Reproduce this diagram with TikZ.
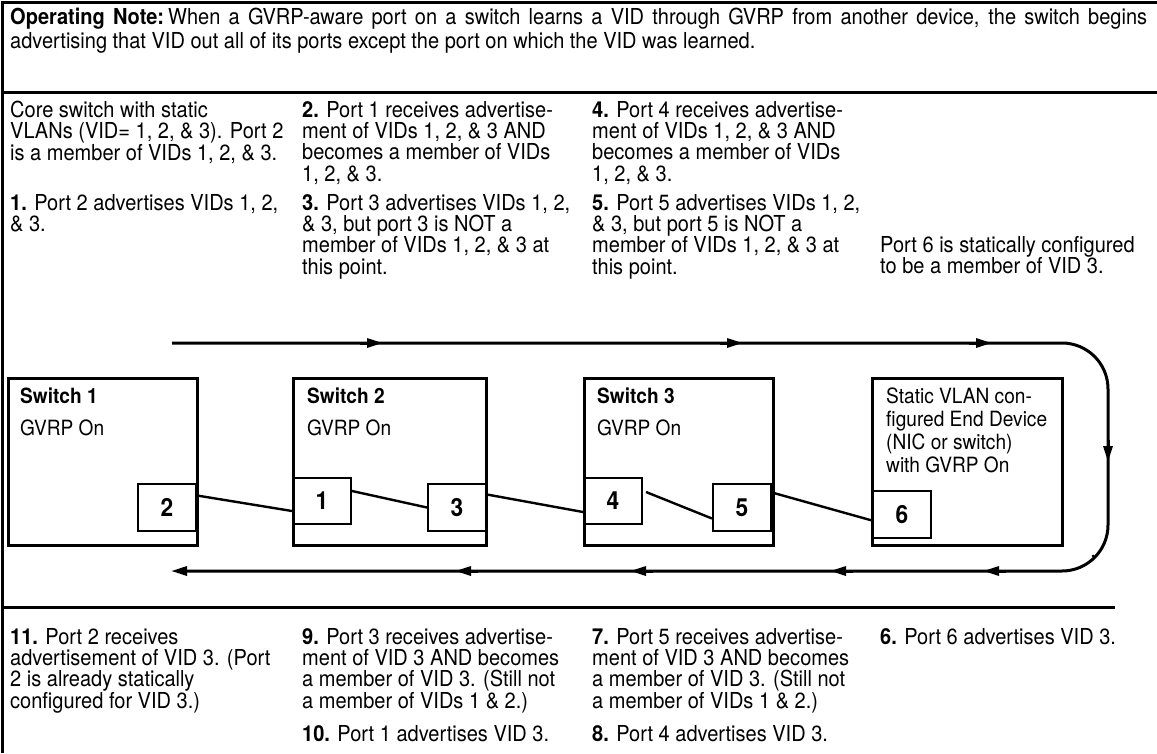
\documentclass[tikz,border=0pt]{standalone}
\usepackage{fontspec}
\setmainfont{TeX Gyre Heros}[FakeStretch=0.91]
\usetikzlibrary{arrows.meta}
\begin{document}
\begin{tikzpicture}[x=1pt,y=-1pt,
 txt/.style={anchor=north west,inner sep=0pt,align=left,font=\fontsize{22}{21.3}\selectfont},
 swbox/.style={draw,line width=3pt,minimum width=190pt,minimum height=167pt,inner sep=0pt},
 portbox/.style={draw,line width=2pt,minimum width=58pt,minimum height=47pt,inner sep=0pt,font=\fontsize{25}{25}\selectfont\bfseries},
 swlabel/.style={anchor=north west,inner sep=0pt,align=left,font=\fontsize{21}{23}\selectfont},
 portlink/.style={line width=2.4pt},
 sepline/.style={line width=3pt},
 flow/.style={line width=3pt},
 flowtip/.style={line width=3pt,-{Triangle[length=16pt,width=9pt]}}]
\useasboundingbox (0,0) rectangle (1157,753);
% frame
\draw[sepline] (1157,2) -- (2,2) -- (2,753);
\draw[sepline] (2,92) -- (1157,92);
\draw[sepline] (2,607) -- (1115,607);
% header
\node[txt,font=\fontsize{22}{24}\selectfont] (hdr) at (10,8) {\makebox[1137pt][s]{\textbf{Operating Note:}\hspace{4pt}When a GVRP-aware port on a switch learns a VID through GVRP from another device, the switch begins}\\advertising that VID out all of its ports except the port on which the VID was learned.};
% upper texts
\node[txt] (u1a) at (10,101) {Core switch with static\\VLANs (VID= 1, 2, \& 3). Port 2\\is a member of VIDs 1, 2, \& 3.};
\node[txt] (u1b) at (10,194) {\textbf{1.} Port 2 advertises VIDs 1, 2,\\\& 3.};
\node[txt] (u2a) at (302,101) {\textbf{2.} Port 1 receives advertise-\\ment of VIDs 1, 2, \& 3 AND\\becomes a member of VIDs\\1, 2, \& 3.};
\node[txt] (u2b) at (302,194) {\textbf{3.} Port 3 advertises VIDs 1, 2,\\\& 3, but port 3 is NOT a\\member of VIDs 1, 2, \& 3 at\\this point.};
\node[txt] (u3a) at (592,101) {\textbf{4.} Port 4 receives advertise-\\ment of VIDs 1, 2, \& 3 AND\\becomes a member of VIDs\\1, 2, \& 3.};
\node[txt] (u3b) at (592,194) {\textbf{5.} Port 5 advertises VIDs 1, 2,\\\& 3, but port 5 is NOT a\\member of VIDs 1, 2, \& 3 at\\this point.};
\node[txt] (u4) at (880,236) {Port 6 is statically configured\\to be a member of VID 3.};
% devices
\node[swbox,minimum width=189pt] (s1) at (102.5,461.5) {};
\node[swbox,minimum width=193pt] (s2) at (389.5,461.5) {};
\node[swbox,minimum width=189pt] (s3) at (678.5,461.5) {};
\node[swbox,minimum width=190pt] (s4) at (967,461.5) {};
\node[swlabel] (s1t) at (20,388) {\textbf{Switch 1}\\[9pt]GVRP On};
\node[swlabel] (s2t) at (307,388) {\textbf{Switch 2}\\[9pt]GVRP On};
\node[swlabel] (s3t) at (597,388) {\textbf{Switch 3}\\[9pt]GVRP On};
\node[swlabel] (s4t) at (886,388) {Static VLAN con-\\figured End Device\\(NIC or switch)\\with GVRP On};
% ports
\node[portbox] (p2) at (167,507.5) {2};
\node[portbox,minimum height=46pt] (p1) at (322,501) {1};
\node[portbox] (p3) at (457,507.5) {3};
\node[portbox,minimum height=46pt] (p4) at (613,501) {4};
\node[portbox] (p5) at (742,507.5) {5};
\node[portbox] (p6) at (902,514.5) {6};
% links
\draw[portlink] ([yshift=12pt]p2.east) -- ([yshift=-10pt]p1.west);
\draw[portlink] ([yshift=10pt]p1.east) -- ([yshift=0pt]p3.west);
\draw[portlink] ([yshift=13pt]p3.east) -- ([yshift=-11pt]p4.west);
\draw[portlink] ([xshift=3pt,yshift=9pt]p4.east) -- ([yshift=-11pt]p5.west);
\draw[portlink] ([yshift=15pt]p5.east) -- ([yshift=-6pt]p6.west);
% advertisement loop
\coordinate (la) at (172,343);
\coordinate (lb) at (1108,343);
\coordinate (lc) at (1108,571);
\coordinate (ld) at (171,571);
\draw[flow,rounded corners=46pt,-{Triangle[length=16pt,width=9pt]}] (la) -- (lb) -- (lc) -- (ld);
\draw[flowtip] (360,343) -- (383,343);
\draw[flowtip] (720,343) -- (743,343);
\draw[flowtip] (969,343) -- (992,343);
\draw[flowtip] (1108,440) -- (1108,462);
\draw[flowtip] (478,571) -- (455,571);
\draw[flowtip] (653,571) -- (630,571);
\draw[flowtip] (853,571) -- (830,571);
\draw[flowtip] (1006,571) -- (983,571);
\fill (1093,556) circle (1.5pt);
% lower texts
\node[txt] (b1) at (10,628) {\textbf{11.} Port 2 receives\\advertisement of VID 3. (Port\\2 is already statically\\configured for VID 3.)};
\node[txt] (b2a) at (302,628) {\textbf{9.} Port 3 receives advertise-\\ment of VID 3 AND becomes\\a member of VID 3. (Still not\\a member of VIDs 1 \& 2.)};
\node[txt] (b2b) at (302,725) {\textbf{10.} Port 1 advertises VID 3.};
\node[txt] (b3a) at (592,628) {\textbf{7.} Port 5 receives advertise-\\ment of VID 3 AND becomes\\a member of VID 3. (Still not\\a member of VIDs 1 \& 2.)};
\node[txt] (b3b) at (592,725) {\textbf{8.} Port 4 advertises VID 3.};
\node[txt] (b4) at (880,628) {\textbf{6.} Port 6 advertises VID 3.};
\end{tikzpicture}
\end{document}
